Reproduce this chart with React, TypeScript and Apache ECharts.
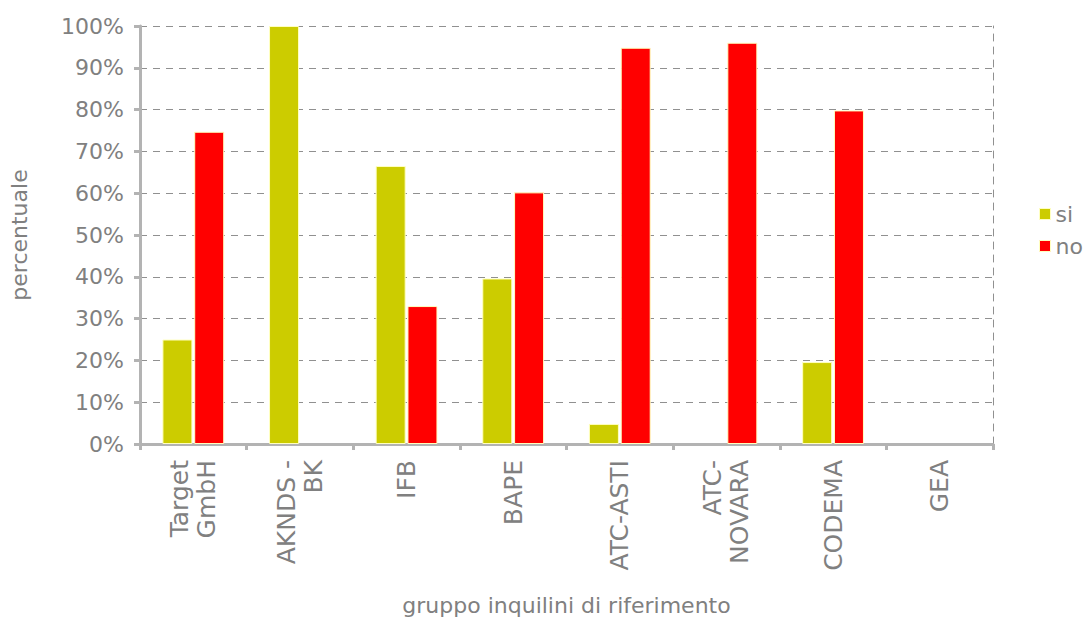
import React, { useEffect, useRef } from "react";
import * as echarts from "echarts";

const categories = ["Target\nGmbH", "AKNDS -\nBK", "IFB", "BAPE", "ATC-ASTI", "ATC-\nNOVARA", "CODEMA", "GEA"];
const siValues: (number | null)[] = [25, 100, 66.5, 39.6, 4.8, null, 19.6, null];
const noValues: (number | null)[] = [74.7, null, 33, 60.2, 94.8, 96, 79.8, null];
const seriesNames = ["si", "no"];
const colors = ["#cccc00", "#ff0000"];

const FONT = "'DejaVu Sans', Verdana, sans-serif";
const GREY = "#808080";
const AXIS = "#b3b3b3";

export default function App() {
  const ref = useRef<HTMLDivElement>(null);
  useEffect(() => {
    if (!ref.current) return;
    const chart = echarts.init(ref.current, undefined, { renderer: "svg" });
    chart.setOption({
      animation: false,
      textStyle: { fontFamily: FONT, color: GREY },
      grid: { left: 136, top: 26, right: 92, bottom: 175, containLabel: false },
      legend: {
        orient: "vertical",
        left: 1034,
        top: 198,
        itemWidth: 11,
        itemHeight: 11,
        itemGap: 10,
        icon: "rect",
        textStyle: { fontFamily: FONT, fontSize: 22, color: GREY },
        data: seriesNames.map((n, i) => ({
          name: n,
          itemStyle: { color: colors[i], borderColor: "#ffffc0", borderWidth: 1 },
        })),
      },
      xAxis: {
        type: "category",
        data: categories,
        boundaryGap: true,
        name: "gruppo inquilini di riferimento",
        nameLocation: "middle",
        nameGap: 150,
        nameTextStyle: { fontFamily: FONT, fontSize: 22, color: GREY },
        axisLine: { lineStyle: { color: AXIS, width: 3 } },
        axisTick: { show: true, length: 6, lineStyle: { color: AXIS, width: 3 } },
        axisLabel: {
          rotate: 90,
          margin: 16,
          fontFamily: FONT,
          fontSize: 25,
          color: GREY,
          lineHeight: 27,
          interval: 0,
        },
        splitLine: { show: false },
      },
      yAxis: [
        {
          type: "value",
          min: 0,
          max: 100,
          interval: 10,
          name: "percentuale",
          nameLocation: "middle",
          nameGap: 110,
          nameTextStyle: { fontFamily: FONT, fontSize: 22, color: GREY },
          axisLine: { show: true, lineStyle: { color: AXIS, width: 3 } },
          axisTick: { show: true, length: 6, lineStyle: { color: AXIS, width: 3 } },
          axisLabel: {
            formatter: "{value}%",
            margin: 16,
            fontFamily: FONT,
            fontSize: 22,
            color: GREY,
          },
          splitLine: { show: true, lineStyle: { color: "#909090", type: [7, 6], width: 1 } },
        },
        {
          type: "value",
          position: "right",
          min: 0,
          max: 100,
          interval: 10,
          axisLine: { show: true, lineStyle: { color: "#909090", type: [7, 6], width: 1 } },
          axisTick: { show: false },
          axisLabel: { show: false },
          splitLine: { show: false },
        },
      ],
      series: [
        {
          name: seriesNames[0],
          type: "bar",
          data: siValues,
          barWidth: 30,
          barGap: "6%",
          itemStyle: { color: colors[0], borderColor: "#ffffc0", borderWidth: 1 },
        },
        {
          name: seriesNames[1],
          type: "bar",
          data: noValues,
          barWidth: 30,
          barGap: "6%",
          itemStyle: { color: colors[1], borderColor: "#ffffc0", borderWidth: 1 },
        },
      ],
    });
    return () => chart.dispose();
  }, []);
  return <div ref={ref} style={{ width: 1085, height: 621, position: "absolute", left: 0, top: 0 }} />;
}
